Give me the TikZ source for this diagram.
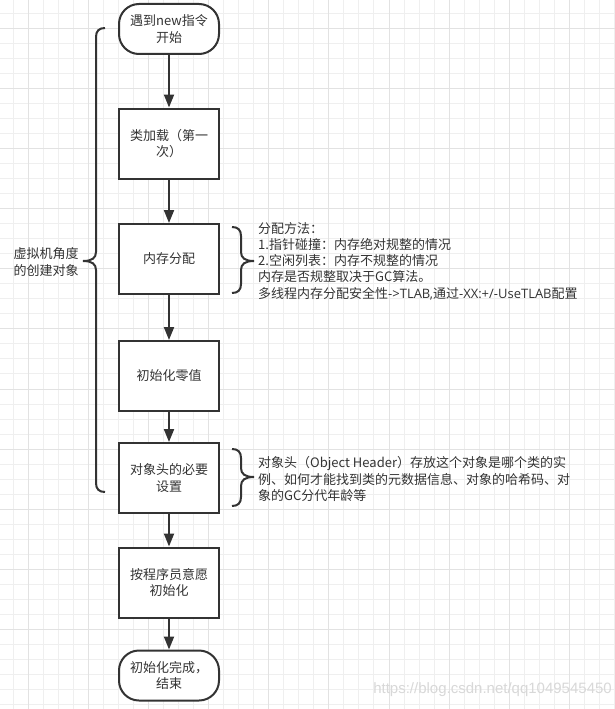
\documentclass[tikz,border=0pt]{standalone}
\usepackage{fontspec}
\setmainfont{Noto Sans CJK SC}
\newfontfamily\wmfont{Liberation Sans}
\newfontfamily\latinwide{Open Sans}
\usetikzlibrary{arrows.meta}
\definecolor{ink}{HTML}{333333}
\definecolor{txt}{HTML}{333333}
\definecolor{gridminor}{HTML}{EFEFEF}
\definecolor{gridmajor}{HTML}{E2E2E2}
\definecolor{wm}{HTML}{D8D8D8}
\tikzset{
  every node/.style={font=\fontsize{13pt}{16.3pt}\selectfont, text=txt},
  procbox/.style={draw=ink, line width=2pt, fill=white, minimum width=100pt, minimum height=70pt, align=center, inner sep=2pt},
  termbox/.style={draw=ink, line width=2pt, fill=white, rounded corners=20pt, minimum width=100pt, minimum height=50pt, align=center, inner sep=2pt},
  flow/.style={draw=ink, line width=2pt, -{Triangle[length=13pt,width=10pt]}},
  bracestyle/.style={draw=ink, line width=2pt},
  note/.style={align=left, inner sep=0pt, anchor=west},
}
\begin{document}
\begin{tikzpicture}[x=1pt,y=-1pt]
\useasboundingbox (0,0) rectangle (615,709);
\fill[white] (0,0) rectangle (615,709);
% grid
\foreach \i in {-1,...,40} {
  \draw[gridminor, line width=1pt] ({13.25+\i*15.03},0) -- ({13.25+\i*15.03},709);
}
\foreach \i in {-1,...,46} {
  \draw[gridminor, line width=1pt] (0,{13.25+\i*15.03}) -- (615,{13.25+\i*15.03});
}
\foreach \i in {0,...,10} {
  \draw[gridmajor, line width=1pt] ({28.3+\i*60.12},0) -- ({28.3+\i*60.12},709);
  \draw[gridmajor, line width=1pt] (0,{28.3+\i*60.12}) -- (615,{28.3+\i*60.12});
}
% flow nodes
\node[termbox] (start) at (169,29) {遇到new指令\\开始};
\node[procbox] (load) at (169,143.5) {类加载（第一\\次）};
\node[procbox] (alloc) at (169,259) {内存分配};
\node[procbox] (zero) at (169,376) {初始化零值};
\node[procbox] (header) at (169,478) {对象头的必要\\设置};
\node[procbox] (init) at (169,582.5) {按程序员意愿\\初始化};
\node[termbox] (done) at (169,675.5) {初始化完成，\\结束};
% connectors
\draw[flow] (start) -- (load);
\draw[flow] (load) -- (alloc);
\draw[flow] (alloc) -- (zero);
\draw[flow] (zero) -- (header);
\draw[flow] (header) -- (init);
\draw[flow] (init) -- (done);
% left brace
\draw[bracestyle] (105,28) .. controls (99,28) and (96,31) .. (96,37) -- (96,252)
  .. controls (96,258) and (92,261) .. (83,261)
  .. controls (92,261) and (96,264) .. (96,270) -- (96,483)
  .. controls (96,489) and (99,492) .. (105,492);
\node[align=center, inner sep=0pt] (leftlabel) at (46,262) {虚拟机角度\\的创建对象};
% right brace 1
\draw[bracestyle] (232,227) .. controls (238,227) and (241,230) .. (241,236) -- (241,252)
  .. controls (241,258) and (245,261) .. (254,261)
  .. controls (245,261) and (241,264) .. (241,270) -- (241,284)
  .. controls (241,290) and (238,293) .. (232,293);
\node[note] (allocnote) at (258,261) {分配方法：\\1.指针碰撞：内存绝对规整的情况\\2.空闲列表：内存不规整的情况\\内存是否规整取决于GC算法。\\多线程内存分配安全性{\latinwide ->TLAB,}通过{\latinwide -XX:+/-UseTLAB}配置};
% right brace 2
\draw[bracestyle] (232,449) .. controls (238,449) and (241,452) .. (241,458) -- (241,468)
  .. controls (241,474) and (245,477) .. (254,477)
  .. controls (245,477) and (241,480) .. (241,486) -- (241,497)
  .. controls (241,503) and (238,506) .. (232,506);
\node[note] (headernote) at (258,479) {对象头（Object Header）存放这个对象是哪个类的实\\例、如何才能找到类的元数据信息、对象的哈希码、对\\象的GC分代年龄等};
% watermark
\node[font=\wmfont\fontsize{15pt}{18pt}\selectfont, text=wm, anchor=east, inner sep=0pt] (mark) at (612,690) {https://blog.csdn.net/qq1049545450};
\end{tikzpicture}
\end{document}
